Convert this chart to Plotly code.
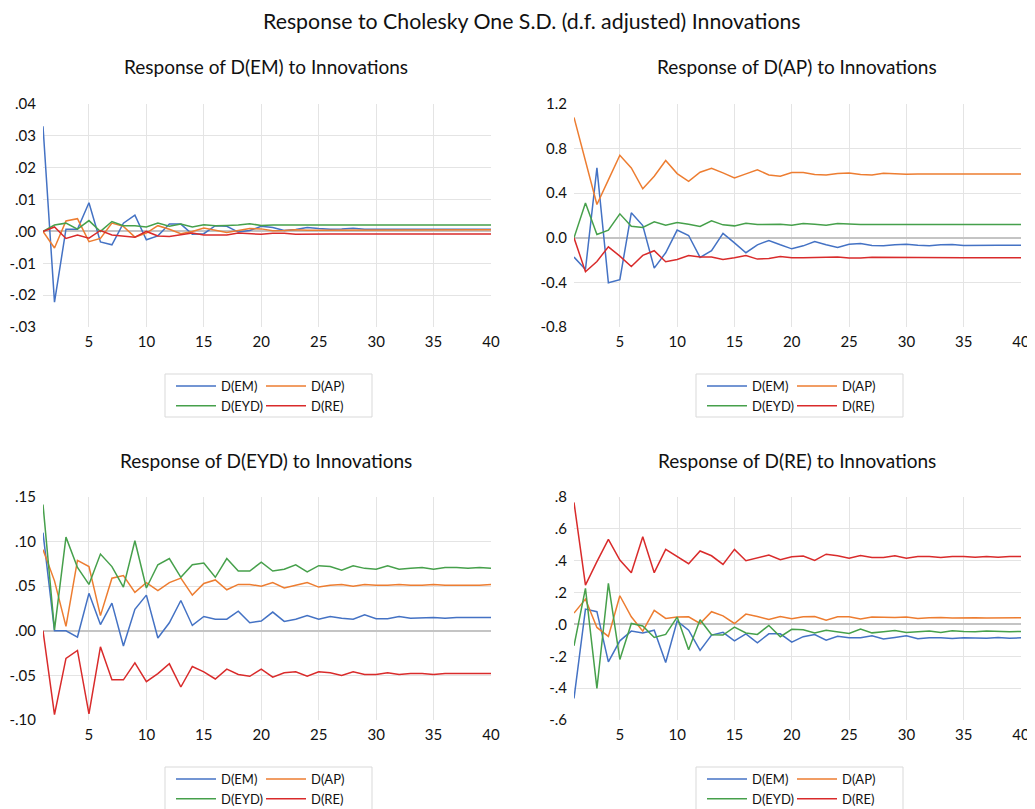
import plotly.graph_objects as go

periods = list(range(1, 41))
series_names = ["D(EM)", "D(AP)", "D(EYD)", "D(RE)"]
colors = ["#4472C4", "#ED7D31", "#46A04B", "#D92B2B"]

main_title = "Response to Cholesky One S.D. (d.f. adjusted) Innovations"
panel_titles = ["Response of D(EM) to Innovations", "Response of D(AP) to Innovations",
                "Response of D(EYD) to Innovations", "Response of D(RE) to Innovations"]

# Response of D(EM)
em_em = [0.033, -0.0222, 0.0007, 0.0007, 0.009, -0.0033, -0.0042, 0.0026, 0.0051, -0.0026,
         -0.0014, 0.0023, 0.0023, -0.0009, -0.0007, 0.0018, 0.0016, -0.0002, 0.0003, 0.0016,
         0.0012, 0.0003, 0.0006, 0.0012, 0.0009, 0.0007, 0.0008, 0.001, 0.0007, 0.0007,
         0.0007, 0.0007, 0.0007, 0.0007, 0.0007, 0.0007, 0.0007, 0.0007, 0.0007, 0.0007]
em_ap = [0.0, -0.0052, 0.0033, 0.004, -0.0032, -0.0022, 0.0026, 0.0016, -0.0018, -0.0005,
         0.0018, 0.0007, -0.0007, 0.0, 0.0011, 0.0004, -0.0003, 0.0003, 0.0009, 0.0008,
         0.0002, 0.0003, 0.0005, 0.0004, 0.0004, 0.0005, 0.0005, 0.0005, 0.0005, 0.0005,
         0.0005, 0.0005, 0.0005, 0.0005, 0.0005, 0.0005, 0.0005, 0.0005, 0.0005, 0.0005]
em_eyd = [0.0, 0.002, 0.0026, 0.0007, 0.0034, 0.0, 0.0031, 0.0018, 0.0018, 0.0014,
          0.0026, 0.0016, 0.0023, 0.0014, 0.0021, 0.0018, 0.0019, 0.002, 0.0024, 0.0019,
          0.002, 0.002, 0.002, 0.002, 0.002, 0.002, 0.002, 0.002, 0.002, 0.002,
          0.002, 0.002, 0.002, 0.002, 0.002, 0.002, 0.002, 0.002, 0.002, 0.002]
em_re = [0.0, 0.0014, -0.0022, -0.0011, -0.0021, 0.0003, -0.0011, -0.0014, -0.0018, 0.0,
         -0.0014, -0.0016, -0.001, -0.0005, -0.0011, -0.001, -0.0011, -0.0005, -0.0008, -0.0009,
         -0.0006, -0.0006, -0.0009, -0.0008, -0.0008, -0.0008, -0.0008, -0.0008, -0.0008, -0.0008,
         -0.0008, -0.0008, -0.0008, -0.0008, -0.0008, -0.0008, -0.0008, -0.0008, -0.0008, -0.0008]

# Response of D(AP)
ap_em = [-0.173, -0.284, 0.627, -0.403, -0.376, 0.224, 0.11, -0.272, -0.134, 0.069,
         0.021, -0.176, -0.116, 0.039, -0.045, -0.134, -0.063, -0.024, -0.063, -0.099,
         -0.072, -0.033, -0.063, -0.087, -0.057, -0.051, -0.069, -0.072, -0.063, -0.057,
         -0.066, -0.072, -0.063, -0.06, -0.069, -0.066, -0.066, -0.066, -0.066, -0.067]
ap_ap = [1.08, 0.69, 0.299, 0.52, 0.74, 0.627, 0.44, 0.552, 0.693, 0.576,
         0.507, 0.588, 0.624, 0.582, 0.537, 0.573, 0.609, 0.564, 0.552, 0.585,
         0.585, 0.567, 0.564, 0.576, 0.582, 0.567, 0.564, 0.579, 0.573, 0.57,
         0.573, 0.573, 0.573, 0.573, 0.573, 0.573, 0.573, 0.573, 0.573, 0.573]
ap_eyd = [0.0, 0.313, 0.03, 0.069, 0.215, 0.104, 0.093, 0.143, 0.113, 0.137,
          0.122, 0.101, 0.152, 0.116, 0.107, 0.131, 0.119, 0.119, 0.122, 0.113,
          0.128, 0.122, 0.113, 0.128, 0.122, 0.119, 0.119, 0.12, 0.119, 0.119,
          0.119, 0.119, 0.119, 0.119, 0.119, 0.119, 0.119, 0.119, 0.119, 0.119]
ap_re = [0.0, -0.304, -0.212, -0.081, -0.164, -0.257, -0.158, -0.116, -0.215, -0.194,
         -0.158, -0.173, -0.173, -0.194, -0.179, -0.158, -0.191, -0.185, -0.167, -0.179,
         -0.179, -0.176, -0.176, -0.173, -0.182, -0.182, -0.175, -0.176, -0.178, -0.178,
         -0.178, -0.178, -0.178, -0.178, -0.178, -0.178, -0.178, -0.178, -0.178, -0.178]

# Response of D(EYD)
eyd_em = [0.11, 0.0, 0.0, -0.007, 0.042, 0.007, 0.031, -0.017, 0.024, 0.04,
          -0.008, 0.009, 0.034, 0.006, 0.016, 0.013, 0.013, 0.022, 0.009, 0.011,
          0.021, 0.0105, 0.013, 0.017, 0.013, 0.016, 0.014, 0.013, 0.018, 0.0135,
          0.0135, 0.016, 0.014, 0.0146, 0.015, 0.014, 0.015, 0.015, 0.0146, 0.015]
eyd_ap = [0.091, 0.056, 0.005, 0.079, 0.072, 0.017, 0.059, 0.062, 0.043, 0.054,
          0.045, 0.054, 0.059, 0.04, 0.053, 0.057, 0.046, 0.052, 0.052, 0.05,
          0.054, 0.048, 0.051, 0.054, 0.049, 0.051, 0.052, 0.05, 0.052, 0.051,
          0.051, 0.052, 0.051, 0.051, 0.052, 0.051, 0.051, 0.051, 0.051, 0.052]
eyd_eyd = [0.1416, 0.001, 0.105, 0.071, 0.052, 0.086, 0.072, 0.049, 0.101, 0.048,
           0.074, 0.081, 0.06, 0.074, 0.076, 0.06, 0.081, 0.067, 0.067, 0.077,
           0.067, 0.069, 0.074, 0.066, 0.073, 0.072, 0.068, 0.073, 0.07, 0.069,
           0.073, 0.069, 0.07, 0.071, 0.069, 0.071, 0.071, 0.07, 0.071, 0.07]
eyd_re = [0.0, -0.094, -0.031, -0.022, -0.093, -0.018, -0.055, -0.055, -0.036, -0.057,
          -0.048, -0.037, -0.063, -0.04, -0.046, -0.054, -0.043, -0.049, -0.051, -0.043,
          -0.052, -0.047, -0.046, -0.051, -0.046, -0.047, -0.05, -0.046, -0.049, -0.049,
          -0.047, -0.049, -0.048, -0.048, -0.049, -0.048, -0.048, -0.048, -0.048, -0.048]

# Response of D(RE)
re_em = [-0.465, 0.096, 0.08, -0.235, -0.103, -0.042, -0.054, -0.036, -0.239, 0.021,
         -0.036, -0.163, -0.067, -0.05, -0.103, -0.059, -0.115, -0.059, -0.059, -0.111,
         -0.077, -0.063, -0.099, -0.074, -0.084, -0.084, -0.071, -0.092, -0.082, -0.071,
         -0.09, -0.084, -0.084, -0.088, -0.084, -0.086, -0.086, -0.082, -0.086, -0.084]
re_ap = [0.071, 0.159, -0.019, -0.075, 0.18, 0.048, -0.042, 0.088, 0.038, 0.046,
         0.048, 0.006, 0.08, 0.054, 0.006, 0.065, 0.05, 0.031, 0.05, 0.036,
         0.048, 0.05, 0.027, 0.048, 0.048, 0.034, 0.046, 0.044, 0.044, 0.046,
         0.038, 0.042, 0.044, 0.04, 0.042, 0.042, 0.04, 0.042, 0.042, 0.042]
re_eyd = [-0.134, 0.226, -0.402, 0.258, -0.22, 0.006, -0.01, -0.082, -0.063, 0.046,
          -0.159, 0.029, -0.065, -0.067, -0.017, -0.054, -0.063, -0.006, -0.077, -0.031,
          -0.033, -0.054, -0.036, -0.046, -0.057, -0.029, -0.053, -0.046, -0.038, -0.05,
          -0.046, -0.042, -0.05, -0.04, -0.044, -0.046, -0.042, -0.046, -0.046, -0.044]
re_re = [0.766, 0.247, 0.394, 0.534, 0.404, 0.325, 0.551, 0.325, 0.471, 0.425,
         0.381, 0.461, 0.431, 0.377, 0.471, 0.4, 0.419, 0.436, 0.406, 0.425,
         0.429, 0.402, 0.441, 0.431, 0.416, 0.433, 0.42, 0.42, 0.431, 0.416,
         0.426, 0.426, 0.42, 0.426, 0.426, 0.422, 0.426, 0.422, 0.426, 0.426]

panels = [
    [em_em, em_ap, em_eyd, em_re],
    [ap_em, ap_ap, ap_eyd, ap_re],
    [eyd_em, eyd_ap, eyd_eyd, eyd_re],
    [re_em, re_ap, re_eyd, re_re],
]

ytick_vals = [
    [0.04, 0.03, 0.02, 0.01, 0.0, -0.01, -0.02, -0.03],
    [1.2, 0.8, 0.4, 0.0, -0.4, -0.8],
    [0.15, 0.10, 0.05, 0.0, -0.05, -0.10],
    [0.8, 0.6, 0.4, 0.2, 0.0, -0.2, -0.4, -0.6],
]
ytick_text = [
    [".04", ".03", ".02", ".01", ".00", "-.01", "-.02", "-.03"],
    ["1.2", "0.8", "0.4", "0.0", "-0.4", "-0.8"],
    [".15", ".10", ".05", ".00", "-.05", "-.10"],
    [".8", ".6", ".4", ".2", ".0", "-.2", "-.4", "-.6"],
]
xtick_vals = [5, 10, 15, 20, 25, 30, 35, 40]

OFF = 8  # page body margin
W, H = 1035 - OFF, 809 - OFF
FONT = "Lato"
TXT = "#111111"


def px(xr):
    return (xr - OFF) / W


def py(yr):
    return 1 - (yr - OFF) / H


# pixel geometry of plot areas in the target picture (left, right, top, bottom)
areas = [(43, 491, 104, 327), (574, 1021, 104, 327),
         (43, 491, 497, 720), (574, 1021, 497, 720)]

fig = go.Figure()
layout = dict(
    width=W, height=H,
    margin=dict(l=0, r=0, t=0, b=0, pad=0, autoexpand=False),
    paper_bgcolor="white", plot_bgcolor="white",
    font=dict(family=FONT, size=14, color=TXT),
    showlegend=True,
)

annotations = [dict(text=main_title, x=px(532), y=py(21), xref="paper", yref="paper",
                    showarrow=False, font=dict(size=21.3, family=FONT, color=TXT),
                    xanchor="center", yanchor="middle")]
shapes = []

for k in range(4):
    l, r, t, b = areas[k]
    xref = "x" if k == 0 else f"x{k+1}"
    yref = "y" if k == 0 else f"y{k+1}"
    xa = "xaxis" if k == 0 else f"xaxis{k+1}"
    ya = "yaxis" if k == 0 else f"yaxis{k+1}"
    yv = ytick_vals[k]
    layout[xa] = dict(domain=[px(l), px(r)], anchor=yref, range=[1, 40],
                      tickvals=xtick_vals, showgrid=True, gridcolor="#e4e4e4", gridwidth=1,
                      zeroline=False, showline=False, ticks="", ticklabelstandoff=4,
                      tickfont=dict(size=15, family=FONT, color=TXT))
    layout[ya] = dict(domain=[py(b), py(t)], anchor=xref, range=[min(yv), max(yv)],
                      tickvals=yv, ticktext=ytick_text[k], showgrid=True,
                      gridcolor="#e4e4e4", gridwidth=1, zeroline=True,
                      zerolinecolor="#c4c4c4", zerolinewidth=2, showline=False, ticks="",
                      ticklabelstandoff=6,
                      tickfont=dict(size=15, family=FONT, color=TXT))
    cx = (l + r) / 2
    annotations.append(dict(text=panel_titles[k], x=px(cx - 1), y=py(t - 37),
                            xref="paper", yref="paper", showarrow=False,
                            font=dict(size=19, family=FONT, color=TXT),
                            xanchor="center", yanchor="middle"))
    leg_left = "legend" if k == 0 else f"legend{2*k+1}"
    leg_right = f"legend{2*k+2}"
    for s in range(4):
        lg = leg_left if s in (0, 2) else leg_right
        fig.add_trace(go.Scatter(x=periods, y=panels[k][s], mode="lines", name=series_names[s],
                                 line=dict(color=colors[s], width=1.5), xaxis=xref, yaxis=yref,
                                 legend=lg))
    ly = b + 44
    for lg, lx in ((leg_left, l + 128), (leg_right, l + 218)):
        layout[lg] = dict(x=px(lx), y=py(ly), xanchor="left", yanchor="top",
                          orientation="v", bgcolor="rgba(0,0,0,0)", borderwidth=0,
                          font=dict(size=13, family=FONT, color=TXT), tracegroupgap=0,
                          itemwidth=40, itemclick=False, itemdoubleclick=False)
    shapes.append(dict(type="rect", xref="paper", yref="paper",
                       x0=px(l + 122), x1=px(l + 329),
                       y0=py(b + 90), y1=py(b + 47),
                       line=dict(color="#d9d9d9", width=1), fillcolor="rgba(0,0,0,0)"))

layout["annotations"] = annotations
layout["shapes"] = shapes
fig.update_layout(**layout)
fig.write_html("out.html")
